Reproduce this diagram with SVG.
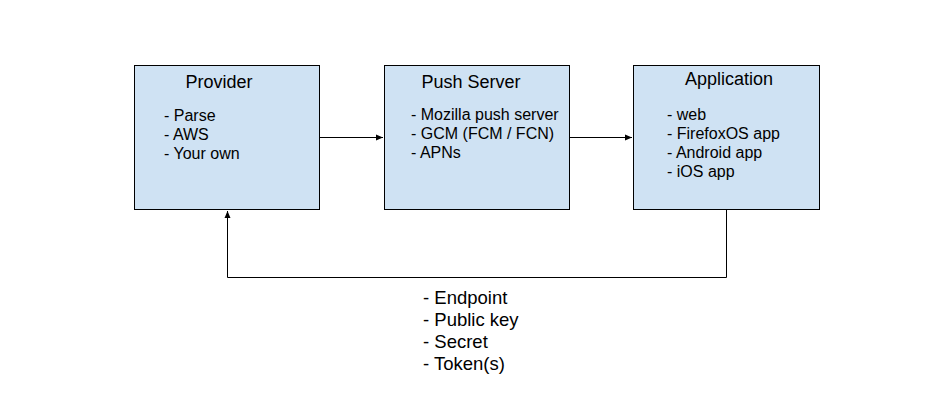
<svg xmlns="http://www.w3.org/2000/svg" width="935" height="417" viewBox="0 0 935 417">
<style>
.box{fill:#cfe2f3;stroke:#000;stroke-width:1}
.t{font-family:"Liberation Sans",Arial,sans-serif;font-size:18px;fill:#000}
.l{font-family:"Liberation Sans",Arial,sans-serif;font-size:16px;fill:#000}
.b{font-family:"Liberation Sans",Arial,sans-serif;font-size:18.5px;fill:#000}
.c{fill:none;stroke:#000;stroke-width:1}
</style>
<defs>
<marker id="ah" markerWidth="8" markerHeight="8" refX="7" refY="4" orient="auto" markerUnits="userSpaceOnUse">
<path d="M0,1 L7,4 L0,7 Z" fill="#000"/>
</marker>
</defs>
<rect width="935" height="417" fill="#fff"/>
<g id="connectors">
<line class="c" x1="319.5" y1="137.5" x2="383" y2="137.5" marker-end="url(#ah)"/>
<line class="c" x1="569.5" y1="137.5" x2="632" y2="137.5" marker-end="url(#ah)"/>
<polyline class="c" points="726.5,209.5 726.5,277.5 227.5,277.5 227.5,211" marker-end="url(#ah)"/>
</g>
<g id="provider">
<rect class="box" x="134.5" y="65.5" width="185" height="144"/>
<text class="t" x="219" y="88" text-anchor="middle">Provider</text>
<text class="l" x="164" y="121">- Parse</text>
<text class="l" x="164" y="140">- AWS</text>
<text class="l" x="164" y="159">- Your own</text>
</g>
<g id="push-server">
<rect class="box" x="384.5" y="65.5" width="185" height="144"/>
<text class="t" x="471" y="88" text-anchor="middle">Push Server</text>
<text class="l" x="411" y="120">- Mozilla push server</text>
<text class="l" x="411" y="139">- GCM (FCM / FCN)</text>
<text class="l" x="411" y="158">- APNs</text>
</g>
<g id="application">
<rect class="box" x="633.5" y="65.5" width="186" height="144"/>
<text class="t" x="729" y="85" text-anchor="middle">Application</text>
<text class="l" x="667" y="120">- web</text>
<text class="l" x="667" y="139">- FirefoxOS app</text>
<text class="l" x="667" y="158">- Android app</text>
<text class="l" x="667" y="177">- iOS app</text>
</g>
<g id="feedback-label">
<text class="b" x="423" y="304">- Endpoint</text>
<text class="b" x="423" y="326">- Public key</text>
<text class="b" x="423" y="348">- Secret</text>
<text class="b" x="423" y="370">- Token(s)</text>
</g>
</svg>
